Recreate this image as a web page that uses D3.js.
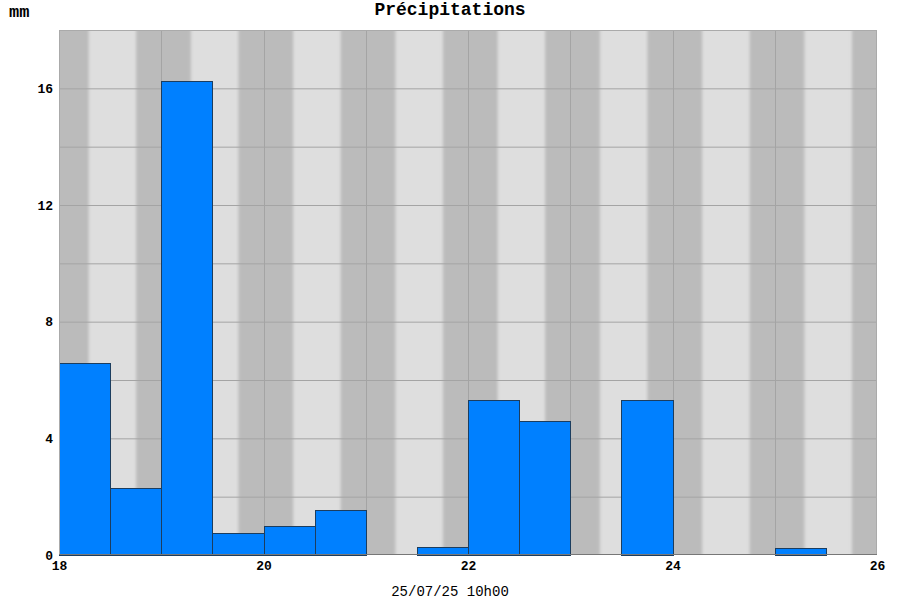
<!DOCTYPE html>
<html>
<head>
<meta charset="utf-8">
<script src="https://cdn.jsdelivr.net/npm/d3@7"></script>
<style>
  body { margin: 0; background: #fff; }
  text { font-family: "Liberation Mono", "DejaVu Sans Mono", monospace; }
</style>
</head>
<body>
<div id="chart"></div>
<script>
// Data: rainfall per half day (start day, mm)
var slotStart = [18, 18.5, 19, 19.5, 20, 20.5, 21, 21.5, 22, 22.5, 23, 23.5, 24, 24.5, 25];
var rainMm    = [6.6, 2.3, 16.25, 0.76, 1.0, 1.53, 0, 0.28, 5.3, 4.6, 0, 5.3, 0, 0, 0.25];
var slotWidth = 0.5;

// Night periods (fraction of day): dark from evening to morning
var nightStart = 0.755;
var nightEnd = 0.29;
var nightDays = [17, 18, 19, 20, 21, 22, 23, 24, 25];

var xTicks = [18, 20, 22, 24, 26];
var yTicks = [0, 4, 8, 12, 16];
var title = "Précipitations";
var unit = "mm";
var footer = "25/07/25 10h00";

// Margin convention
var margin = {top: 30, right: 23, bottom: 45, left: 59};
var W = 900, H = 600;
var width = W - margin.left - margin.right;
var height = H - margin.top - margin.bottom;

var root = d3.select("#chart").append("svg")
    .attr("width", W)
    .attr("height", H);

var defs = root.append("defs");
defs.append("clipPath").attr("id", "plotclip")
    .append("rect").attr("width", width).attr("height", height);
defs.append("filter").attr("id", "soft")
    .attr("x", "-10%").attr("y", "-10%").attr("width", "120%").attr("height", "120%")
    .append("feGaussianBlur").attr("stdDeviation", 1.4);

var svg = root.append("g")
    .attr("transform", "translate(" + margin.left + "," + margin.top + ")");

// Scales
var x = d3.scaleLinear().domain([18, 26]).range([0, width]);
var y = d3.scaleLinear().domain([0, 18]).range([height, 0]);

// Background (day)
svg.append("rect")
    .attr("width", width).attr("height", height)
    .attr("fill", "#dedede");

// Night stripes
svg.append("g").attr("clip-path", "url(#plotclip)")
  .append("g").attr("filter", "url(#soft)")
  .selectAll("rect")
  .data(nightDays)
  .enter().append("rect")
    .attr("x", function(d) { return x(d + nightStart); })
    .attr("y", -10)
    .attr("width", function(d) { return x(d + 1 + nightEnd) - x(d + nightStart); })
    .attr("height", height + 20)
    .attr("fill", "#bbbbbb");

// Grid
svg.append("g")
  .selectAll("line.h")
  .data(d3.range(2, 18, 2))
  .enter().append("line")
    .attr("x1", 0).attr("x2", width)
    .attr("y1", function(d) { return y(d) + 0.5; })
    .attr("y2", function(d) { return y(d) + 0.5; })
    .attr("stroke", "#a4a4a4");

svg.append("g")
  .selectAll("line.v")
  .data(d3.range(19, 26, 1))
  .enter().append("line")
    .attr("y1", 0).attr("y2", height)
    .attr("x1", function(d) { return Math.round(x(d)) + 0.5; })
    .attr("x2", function(d) { return Math.round(x(d)) + 0.5; })
    .attr("stroke", "#a4a4a4");

// Bars
svg.append("g")
  .selectAll("rect")
  .data(slotStart.map(function(s, i) { return {s: s, v: rainMm[i]}; })
        .filter(function(d) { return d.v > 0; }))
  .enter().append("rect")
    .attr("x", function(d) { return Math.round(x(d.s)) + 0.5; })
    .attr("y", function(d) { return Math.round(y(d.v)) + 0.5; })
    .attr("width", function(d) { return Math.round(x(d.s + slotWidth)) - Math.round(x(d.s)); })
    .attr("height", function(d) { return height - Math.round(y(d.v)); })
    .attr("fill", "#0080ff")
    .attr("stroke", "#1c3d5e")
    .attr("stroke-width", 1);

// Frame
svg.append("rect")
    .attr("x", 0.5).attr("y", 0.5)
    .attr("width", width - 1).attr("height", height - 1)
    .attr("fill", "none")
    .attr("stroke", "#aaaaaa");
svg.append("line")
    .attr("x1", 0).attr("x2", width)
    .attr("y1", height - 0.5).attr("y2", height - 0.5)
    .attr("stroke", "#777");

// Axes labels
var bottomAxis = d3.axisBottom(x).tickValues(xTicks).tickSize(0).tickPadding(6);
var leftAxis = d3.axisLeft(y).tickValues(yTicks).tickSize(0).tickPadding(6);

var gx = svg.append("g").attr("transform", "translate(0," + height + ")").call(bottomAxis);
var gy = svg.append("g").call(leftAxis);
[gx, gy].forEach(function(g) {
  g.select(".domain").remove();
  g.selectAll("text")
    .style("font-family", "'Liberation Mono', monospace")
    .style("font-size", "13px")
    .style("font-weight", "bold")
    .attr("fill", "#000");
});

// Titles
root.append("text")
    .attr("x", W / 2).attr("y", 15)
    .attr("text-anchor", "middle")
    .style("font-size", "18px")
    .style("font-weight", "bold")
    .text(title);

root.append("text")
    .attr("x", 9).attr("y", 17)
    .style("font-size", "17px")
    .style("font-weight", "bold")
    .text(unit);

root.append("text")
    .attr("x", W / 2).attr("y", 596)
    .attr("text-anchor", "middle")
    .style("font-size", "14px")
    .text(footer);
</script>
</body>
</html>
